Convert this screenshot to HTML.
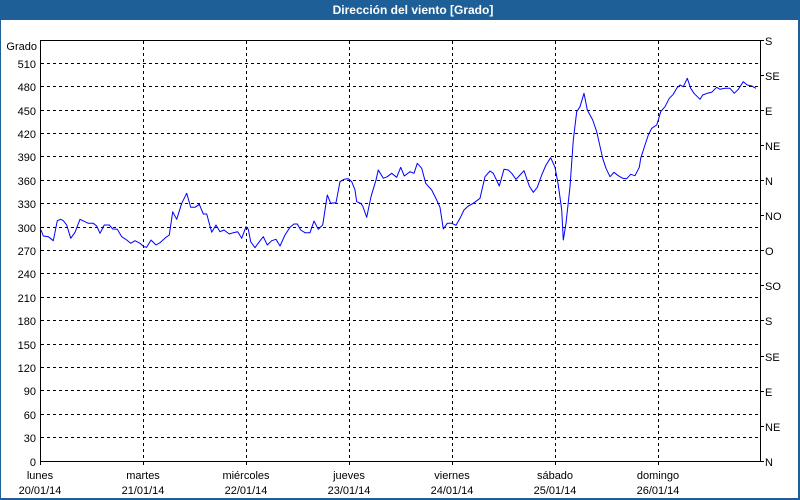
<!DOCTYPE html>
<html><head><meta charset="utf-8"><style>
html,body{margin:0;padding:0;background:#fff;}
svg{display:block;}
text{font-family:"Liberation Sans",Arial,sans-serif;font-size:11px;fill:#000;}
</style></head><body>
<svg width="800" height="500" viewBox="0 0 800 500" xmlns="http://www.w3.org/2000/svg">
<rect x="0" y="0" width="800" height="500" fill="#fff"/>
<rect x="0" y="0" width="800" height="20" fill="#1f5f97"/>
<rect x="0" y="0" width="1" height="500" fill="#1f5f97"/>
<rect x="798" y="0" width="2" height="500" fill="#1f5f97"/>
<rect x="0" y="498" width="800" height="2" fill="#1f5f97"/>
<text x="413" y="14" text-anchor="middle" style="font-size:12px;font-weight:bold;fill:#fff">Dirección del viento [Grado]</text>

<g stroke="#000" stroke-width="1" stroke-dasharray="3,3" fill="none" shape-rendering="crispEdges">
<line x1="41" y1="437.5" x2="760" y2="437.5"/>
<line x1="41" y1="414.5" x2="760" y2="414.5"/>
<line x1="41" y1="390.5" x2="760" y2="390.5"/>
<line x1="41" y1="367.5" x2="760" y2="367.5"/>
<line x1="41" y1="344.5" x2="760" y2="344.5"/>
<line x1="41" y1="320.5" x2="760" y2="320.5"/>
<line x1="41" y1="297.5" x2="760" y2="297.5"/>
<line x1="41" y1="273.5" x2="760" y2="273.5"/>
<line x1="41" y1="250.5" x2="760" y2="250.5"/>
<line x1="41" y1="227.5" x2="760" y2="227.5"/>
<line x1="41" y1="203.5" x2="760" y2="203.5"/>
<line x1="41" y1="180.5" x2="760" y2="180.5"/>
<line x1="41" y1="156.5" x2="760" y2="156.5"/>
<line x1="41" y1="133.5" x2="760" y2="133.5"/>
<line x1="41" y1="110.5" x2="760" y2="110.5"/>
<line x1="41" y1="86.5" x2="760" y2="86.5"/>
<line x1="41" y1="63.5" x2="760" y2="63.5"/>
<line x1="143.5" y1="41" x2="143.5" y2="461"/>
<line x1="246.5" y1="41" x2="246.5" y2="461"/>
<line x1="349.5" y1="41" x2="349.5" y2="461"/>
<line x1="452.5" y1="41" x2="452.5" y2="461"/>
<line x1="555.5" y1="41" x2="555.5" y2="461"/>
<line x1="658.5" y1="41" x2="658.5" y2="461"/>
</g>

<g stroke="#000" stroke-width="1" fill="none" shape-rendering="crispEdges">
<rect x="40.5" y="40.5" width="720" height="421"/>
<path d="M40.5 461v4M143.5 461v4M246.5 461v4M349.5 461v4M452.5 461v4M555.5 461v4M658.5 461v4"/>
<path d="M760 40.5h4M760 75.5h4M760 110.5h4M760 145.5h4M760 180.5h4M760 215.5h4M760 250.5h4M760 285.5h4M760 320.5h4M760 356.5h4M760 391.5h4M760 426.5h4M760 461.5h4"/>
</g>

<polyline fill="none" stroke="#0000ff" stroke-width="1" stroke-linejoin="round" points="41,230 43.3,236 48.3,236.7 53.3,240.7 57.3,220.7 60.7,219.3 63.3,220.7 66.7,225 70.7,238.3 75,232.3 80,219.3 85,221.7 88.3,223.3 93.3,223.3 96.7,226 100,233.3 104.3,225 109.3,225 112.7,229 117.3,229.3 121.7,236.7 126.7,240 130.7,243.3 135,240.7 140,243.3 144,246.7 146.7,247.3 151,240 156,245 160,242.7 166,237.3 169.3,235 172.7,211.7 176.7,219.3 181.7,203.3 186.7,193.3 190.7,207.3 195,207.3 199.3,204.3 203.3,214 206.7,214 211.7,232.3 216,225 220,231.7 224,230 229.3,234 233.3,232.7 237.7,231.7 241.7,238.3 246,226.7 248.3,229.3 250.7,241.7 255,247.7 259.3,241.7 263.3,236.7 267.3,245 271.7,240.7 276,239.3 280,246 285,235 290,227.3 294,224 297.3,224 300.7,230 305,232.7 310,232.7 314,221 318.3,229.3 322.7,225 325,210 327.3,195 330.7,203.3 336,202.7 340,181.7 344,179.3 348.3,178.7 351.7,181.7 355,190 356.7,201.7 360.7,203.3 362.7,206 366.7,217.3 371,196.7 376,180 378.3,170 383.3,178.3 387.3,176.7 391.7,173.3 396.7,177.3 400.7,167.3 404.3,176 410,171.7 414,173.3 417.3,163.3 421.7,168.3 425.7,183.3 431.7,190 436.7,200 440,207.3 443.3,229 447.3,223.3 451.7,223.3 456,225.3 460,218.3 464,210 468.3,206 473.3,203.3 480,198.3 485,176.7 490,171 493.3,173.3 499.3,186 504,169.3 508.3,170 511.7,173.3 516,179.3 520,175 524,170.7 529.3,186 533.3,192.3 537.3,187.3 541.7,175 546,165 550.7,157.7 555,167.3 558.3,185 561.7,210 563.3,240 566,223.3 570,186.7 573.3,140 576.7,111.7 580,106.7 584,93.3 587.3,110 592.7,120 596.7,131.7 602.7,158.3 606,168.3 610,176.7 614,172.3 618.3,175.7 622.7,178.3 626.7,178.7 630.7,174.3 635,175.7 639.3,167.3 640.7,158.3 645,145 648.3,135 651.7,128.3 656.7,125 658.3,120 660.7,111.7 665,106.7 669.3,98.3 673.3,94.3 676.7,88.3 680,85 683.3,86.7 687.3,78.3 690.7,88.3 694,93.3 700,99.3 702.7,95 707.3,93.3 711.7,92.3 716.7,87.3 720,89.3 725,88.3 730,88.3 734.3,93.3 738.3,89.3 743.3,81.7 747.3,85 751.7,86 756,88.3"/>

<g text-anchor="end">
<text x="37" y="50">Grado</text>
<text x="36" y="68">510</text>
<text x="36" y="91">480</text>
<text x="36" y="115">450</text>
<text x="36" y="138">420</text>
<text x="36" y="161">390</text>
<text x="36" y="185">360</text>
<text x="36" y="208">330</text>
<text x="36" y="232">300</text>
<text x="36" y="255">270</text>
<text x="36" y="278">240</text>
<text x="36" y="302">210</text>
<text x="36" y="325">180</text>
<text x="36" y="349">150</text>
<text x="36" y="372">120</text>
<text x="36" y="395">90</text>
<text x="36" y="419">60</text>
<text x="36" y="442">30</text>
<text x="36" y="466">0</text>
</g>

<g>
<text x="765" y="45">S</text>
<text x="765" y="80">SE</text>
<text x="765" y="115">E</text>
<text x="765" y="150">NE</text>
<text x="765" y="185">N</text>
<text x="765" y="220">NO</text>
<text x="765" y="255">O</text>
<text x="765" y="290">SO</text>
<text x="765" y="325">S</text>
<text x="765" y="361">SE</text>
<text x="765" y="396">E</text>
<text x="765" y="431">NE</text>
<text x="765" y="466">N</text>
</g>

<g text-anchor="middle">
<text x="40" y="479">lunes</text><text x="40" y="494">20/01/14</text>
<text x="143" y="479">martes</text><text x="143" y="494">21/01/14</text>
<text x="246" y="479">miércoles</text><text x="246" y="494">22/01/14</text>
<text x="349" y="479">jueves</text><text x="349" y="494">23/01/14</text>
<text x="452" y="479">viernes</text><text x="452" y="494">24/01/14</text>
<text x="555" y="479">sábado</text><text x="555" y="494">25/01/14</text>
<text x="658" y="479">domingo</text><text x="658" y="494">26/01/14</text>
</g>
</svg>
</body></html>
